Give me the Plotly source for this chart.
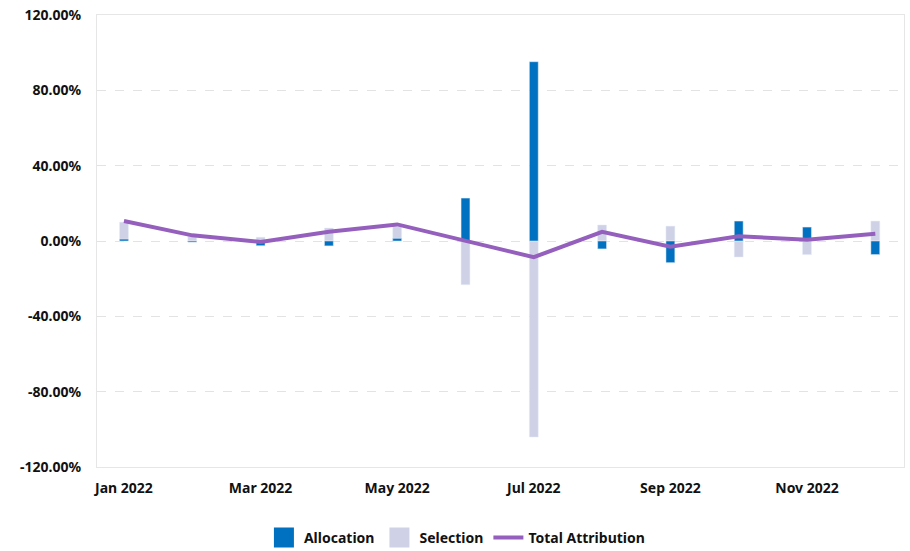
import plotly.graph_objects as go

months = ["Jan 2022", "Feb 2022", "Mar 2022", "Apr 2022", "May 2022", "Jun 2022",
          "Jul 2022", "Aug 2022", "Sep 2022", "Oct 2022", "Nov 2022", "Dec 2022"]
allocation = [1.0, -0.6, -2.5, -2.6, 1.4, 22.8, 95.2, -4.2, -11.5, 10.6, 7.4, -7.2]
selection = [10.0, 2.5, 2.0, 6.9, 7.6, -23.2, -104.1, 8.5, 7.9, -8.5, -7.2, 10.6]
total = [10.6, 3.0, -0.5, 4.9, 8.8, 0.0, -8.6, 4.9, -3.0, 2.5, 0.7, 3.9]
tick_labels = ["Jan 2022", "Mar 2022", "May 2022", "Jul 2022", "Sep 2022", "Nov 2022"]
y_ticks = [-120, -80, -40, 0, 40, 80, 120]

c_alloc = "#0070c0"
c_sel = "#cfd1e6"
c_tot = "#9560bd"

x = list(range(len(months)))
tfont = dict(family="Noto Sans", size=14, color="#111111", weight="bold")

fig = go.Figure()
fig.add_trace(go.Bar(x=x, y=selection, name="Selection", marker_color=c_sel,
                     width=0.13, customdata=months, showlegend=False))
fig.add_trace(go.Bar(x=x, y=allocation, name="Allocation", marker_color=c_alloc,
                     width=0.13, customdata=months, showlegend=False))
fig.add_trace(go.Scatter(x=x, y=total, name="Total Attribution", mode="lines",
                         line=dict(color=c_tot, width=4), showlegend=False))

# legend entries
for nm, col in [("Allocation", c_alloc), ("Selection", c_sel)]:
    fig.add_trace(go.Scatter(x=[None], y=[None], name=nm, mode="markers",
                             marker=dict(symbol="square", size=16, color=col,
                                         line=dict(color=col, width=4))))
fig.add_trace(go.Scatter(x=[None], y=[None], name="Total Attribution", mode="lines",
                         line=dict(color=c_tot, width=4)))

fig.update_layout(
    width=910, height=551,
    barmode="overlay",
    plot_bgcolor="white", paper_bgcolor="white",
    margin=dict(l=97, r=5, t=13, b=84),
    font=tfont,
    legend=dict(orientation="h", x=0.446, xanchor="center", yref="container",
                y=0.024, yanchor="middle", itemsizing="trace",
                font=tfont, traceorder="normal"),
    xaxis=dict(range=[-0.395, 11.42], tickmode="array",
               tickvals=[months.index(t) for t in tick_labels], ticktext=tick_labels,
               showgrid=False, zeroline=False, showline=True, mirror=True,
               linecolor="#e6e6e6", linewidth=1,
               ticks="outside", ticklen=8, tickcolor="rgba(0,0,0,0)",
               tickfont=tfont),
    yaxis=dict(range=[-120, 120], tickmode="array", tickvals=y_ticks,
               ticktext=[f"{v:.2f}%" for v in y_ticks],
               showgrid=True, gridcolor="#e3e3e3", griddash="dash", gridwidth=1,
               zeroline=False, showline=True, mirror=True,
               linecolor="#e6e6e6", linewidth=1,
               ticks="outside", ticklen=12, tickcolor="rgba(0,0,0,0)",
               tickfont=tfont),
)

fig.write_html("out.html")
